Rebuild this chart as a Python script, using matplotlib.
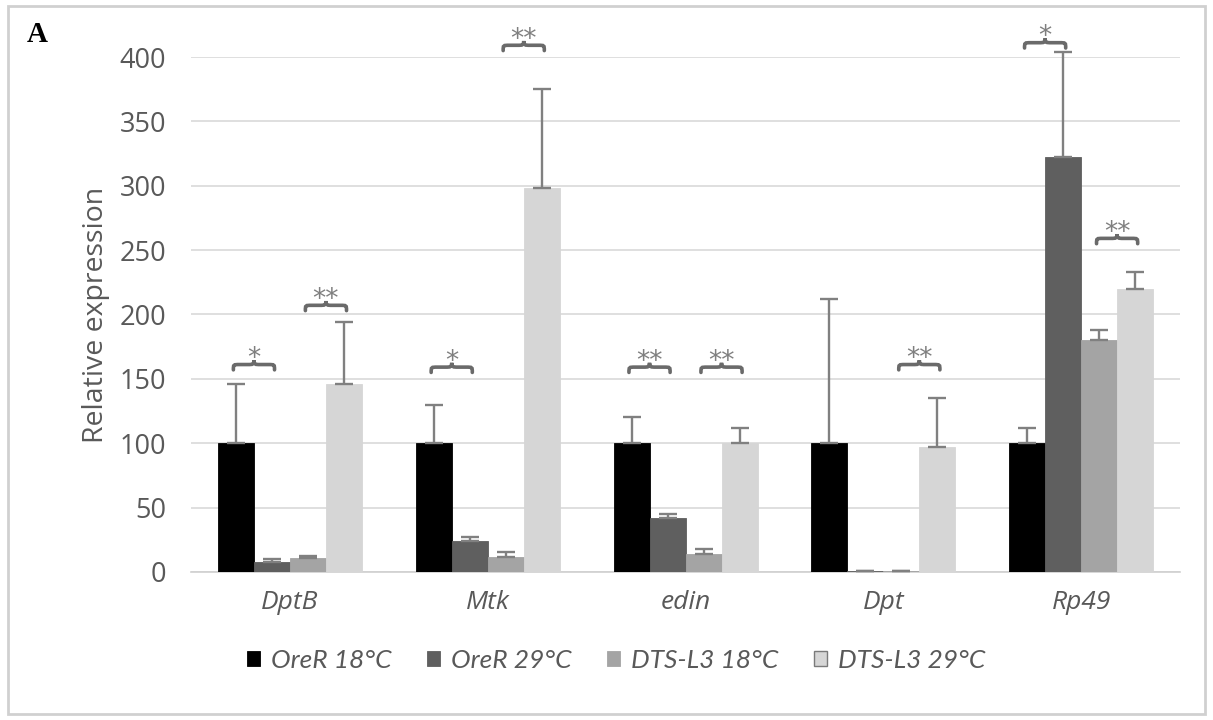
import matplotlib.pyplot as plt
import numpy as np
from matplotlib.path import Path
from matplotlib.patches import PathPatch, Rectangle

genes = ['DptB', 'Mtk', 'edin', 'Dpt', 'Rp49']
groups = ['OreR 18°C', 'OreR 29°C', 'DTS-L3 18°C', 'DTS-L3 29°C']
colors = ['#000000', '#5f5f5f', '#a4a4a4', '#d6d6d6']

oreR_18 = [100, 100, 100, 100, 100]
oreR_29 = [7.5, 24, 42, 0.6, 322]
dts_18 = [10.5, 11.5, 14, 0.6, 180]
dts_29 = [146, 298, 100, 97, 220]

oreR_18_err = [46, 30, 20, 112, 12]
oreR_29_err = [2.5, 3, 3, 0, 82]
dts_18_err = [2, 4, 4, 0, 8]
dts_29_err = [48, 77, 12, 38, 13]

# significance marks: gene index, pair (0 = OreR pair, 1 = DTS-L3 pair), height, label
sig_gene = [0, 0, 1, 1, 2, 2, 3, 4, 4]
sig_pair = [0, 1, 0, 1, 0, 1, 1, 0, 1]
sig_y = [161, 207, 159, 409, 159, 159, 161, 411, 259]
sig_text = ['*', '**', '*', '**', '**', '**', '**', '*', '**']

values = [oreR_18, oreR_29, dts_18, dts_29]
errors = [oreR_18_err, oreR_29_err, dts_18_err, dts_29_err]


def brace(ax, xc, y, hw, h, color):
    # curly brace opening downward, tip at the top centre
    q = hw * 0.3
    m = y + h * 0.55
    verts = [
        (xc - hw, y), (xc - hw, m), (xc - hw, m), (xc - hw + q, m),
        (xc - q, m),
        (xc - q * 0.2, m), (xc, m), (xc, y + h),
        (xc, m), (xc + q * 0.2, m), (xc + q, m),
        (xc + hw - q, m),
        (xc + hw, m), (xc + hw, m), (xc + hw, y),
    ]
    codes = [Path.MOVETO, Path.CURVE4, Path.CURVE4, Path.CURVE4, Path.LINETO,
             Path.CURVE4, Path.CURVE4, Path.CURVE4,
             Path.CURVE4, Path.CURVE4, Path.CURVE4, Path.LINETO,
             Path.CURVE4, Path.CURVE4, Path.CURVE4]
    ax.add_patch(PathPatch(Path(verts, codes), fill=False, edgecolor=color,
                           lw=2.6, clip_on=False, capstyle='round', zorder=5))


def run():
    plt.rcParams['font.family'] = ['Open Sans', 'DejaVu Sans']
    fig = plt.figure(figsize=(12.13, 7.2), dpi=100)
    ax = fig.add_axes([0.1575, 0.2056, 0.8153, 0.7152])

    x = np.arange(len(genes))
    w = 0.182
    for k in range(4):
        pos = x + (k - 1.5) * w
        ax.bar(pos, values[k], width=w, color=colors[k], label=groups[k],
               zorder=3, edgecolor=colors[k], linewidth=0.6)
        ax.errorbar(pos, values[k], yerr=[np.zeros(5), errors[k]], fmt='none',
                    ecolor='#808080', elinewidth=1.7, capsize=6.5, capthick=1.7,
                    zorder=4, clip_on=False)

    for g, p, yy, t in zip(sig_gene, sig_pair, sig_y, sig_text):
        xc = x[g] + (-w if p == 0 else w)
        brace(ax, xc, yy - 4, 0.104, 7.5, '#6a6a6a')
        ax.text(xc, yy - 1, t, ha='center', va='baseline', fontsize=19,
                color='#7f7f7f', family='DejaVu Sans')

    ax.set_xlim(-0.5, 4.5)
    ax.set_ylim(0, 400)
    ax.set_yticks(np.arange(0, 401, 50))
    ax.yaxis.grid(True, color='#d9d9d9', lw=1.2, zorder=0)
    ax.set_axisbelow(True)
    for s in ['top', 'right', 'left']:
        ax.spines[s].set_visible(False)
    ax.spines['bottom'].set_color('#d0d0d0')
    ax.spines['bottom'].set_linewidth(1.2)
    ax.tick_params(length=0)
    ax.tick_params(axis='y', pad=18, labelsize=19.5, labelcolor='#595959')
    ax.tick_params(axis='x', pad=13, labelsize=19, labelcolor='#595959')
    ax.set_xticks(x)
    ax.set_xticklabels(genes, style='italic')
    ax.set_ylabel('Relative expression', fontsize=20.5, color='#595959', labelpad=7)

    leg = fig.legend(loc='center', bbox_to_anchor=(0.508, 0.083), ncol=4,
                     frameon=False, handlelength=0.5, handleheight=0.5,
                     handletextpad=0.4, columnspacing=1.35,
                     prop={'size': 19, 'style': 'italic', 'family': 'Lato'})
    for txt in leg.get_texts():
        txt.set_color('#595959')
    leg.legend_handles[3].set_edgecolor('#7a7a7a')
    leg.legend_handles[3].set_linewidth(1.0)

    fig.text(0.022, 0.942, 'A', fontsize=21, fontweight='bold',
             family='Liberation Serif')
    fig.add_artist(Rectangle((0.007, 0.008), 0.986, 0.983, transform=fig.transFigure,
                             fill=False, edgecolor='#d0d0d0', lw=2))

    fig.savefig('out.png', dpi=100)


if __name__ == '__main__':
    run()
